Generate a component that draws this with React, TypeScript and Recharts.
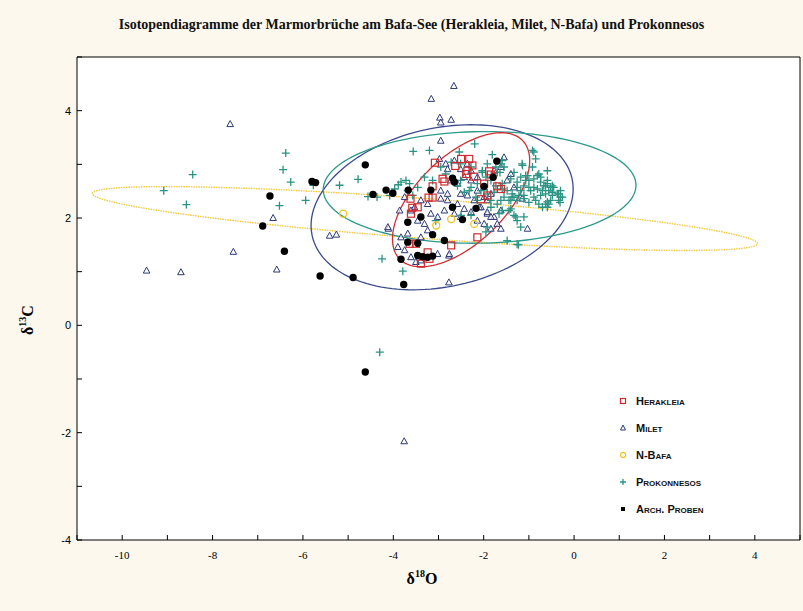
import React from "react";
import { ScatterChart, Scatter, XAxis, YAxis, CartesianGrid } from "recharts";

type Pt = [number, number];

// δ18O / δ13C pairs
const herakleia: Pt[] = [
  [-3.08, 3.03], [-2.63, 2.97], [-2.5, 3.1], [-2.32, 3.1], [-2.36, 2.88], [-2.39, 2.82], [-2.21, 2.77],
  [-1.88, 2.87], [-1.84, 2.81], [-2.91, 2.73], [-2.87, 2.68], [-3.13, 2.59], [-3.13, 2.38], [-3.22, 2.38],
  [-3.62, 2.36], [-3.58, 2.19], [-3.46, 2.2], [-3.61, 2.08], [-2.06, 2.35], [-1.92, 2.42], [-1.7, 2.59],
  [-1.99, 2.64], [-2.72, 1.49], [-3.24, 1.36], [-3.2, 1.24], [-3.64, 1.52], [-3.5, 1.52], [-3.39, 1.15],
  [-2.25, 2.98], [-1.62, 2.54], [-2.14, 1.64],
];

const milet: Pt[] = [
  [-7.61, 3.75], [-9.46, 1.02], [-8.7, 0.99], [-7.54, 1.37], [-6.66, 2.0], [-6.58, 1.04], [-5.41, 1.67],
  [-5.26, 1.69], [-2.66, 4.46], [-3.16, 4.22], [-2.97, 3.87], [-2.95, 3.78], [-2.72, 3.83], [-2.95, 3.44],
  [-3.76, -2.16], [-2.77, 0.8], [-1.62, 1.8], [-1.03, 1.8], [-4.11, 1.8], [-2.77, 1.3],
  [-2.98, 3.1], [-2.84, 3.01], [-2.8, 2.91], [-2.65, 3.07], [-2.51, 2.91], [-2.36, 3.01], [-2.73, 2.7],
  [-2.58, 2.64], [-2.43, 2.76], [-2.28, 2.7], [-2.14, 2.76], [-2.28, 2.88], [-2.14, 2.51], [-1.99, 2.57],
  [-1.84, 2.45], [-1.92, 2.33], [-2.06, 2.2], [-2.21, 2.33], [-2.36, 2.42], [-2.51, 2.45], [-2.8, 2.45],
  [-2.95, 2.51], [-2.95, 2.36], [-2.8, 2.33], [-2.58, 2.26], [-2.43, 2.17], [-2.28, 2.11], [-2.51, 2.02],
  [-2.65, 2.08], [-2.87, 2.14], [-3.02, 2.02], [-3.17, 2.08], [-3.24, 2.26], [-3.39, 2.33], [-3.53, 2.2],
  [-3.61, 2.14], [-3.46, 1.95], [-3.31, 1.89], [-3.24, 1.77], [-3.39, 1.64], [-3.68, 1.71], [-3.83, 1.64],
  [-3.9, 1.46], [-3.75, 1.4], [-3.61, 1.27], [-3.5, 1.18], [-3.39, 1.21], [-3.02, 1.33], [-2.76, 1.33],
  [-1.92, 2.08], [-1.77, 2.02], [-1.62, 2.14], [-1.7, 1.89], [-1.84, 1.8], [-1.99, 1.89], [-2.14, 1.95],
  [-1.48, 2.7], [-1.33, 2.57], [-1.4, 2.82], [-1.62, 2.95], [-1.77, 2.88], [-1.55, 3.13], [-3.75, 2.39],
  [-3.86, 2.14], [-4.12, 1.83], [-1.15, 2.36], [-1.99, 2.39], [-2.1, 2.2], [-1.92, 2.11], [-1.84, 2.02],
];

const nBafa: Pt[] = [[-5.11, 2.08], [-3.05, 1.86], [-2.72, 1.98], [-2.21, 1.89]];

const prokonnesos: Pt[] = [
  [-9.08, 2.51], [-8.44, 2.81], [-8.58, 2.25], [-6.38, 3.21], [-6.44, 2.9], [-6.27, 2.67], [-6.52, 2.23],
  [-5.94, 2.33], [-5.77, 2.61], [-5.19, 2.61], [-4.78, 2.72], [-4.36, 2.39], [-4.56, 2.4], [-4.25, 1.24],
  [-3.79, 1.01], [-4.3, -0.5],
  [-3.56, 3.24], [-3.2, 3.26], [-2.54, 3.23], [-1.81, 3.18], [-3.31, 2.76], [-3.72, 2.7], [-3.89, 2.62],
  [-3.97, 2.54], [-3.64, 2.64], [-3.46, 2.57], [-2.84, 2.82], [-2.72, 3.04], [-2.95, 2.95], [-2.28, 2.95],
  [-2.51, 3.01], [-1.92, 3.01], [-1.7, 2.85], [-2.03, 2.88], [-2.14, 2.64], [-2.28, 2.57], [-2.51, 2.7],
  [-1.59, 2.64], [-1.37, 2.45], [-1.62, 2.33], [-3.83, 2.67], [-3.68, 2.51], [-3.57, 2.42], [-3.13, 2.7],
  [-2.58, 2.6], [-2.43, 2.48], [-2.32, 2.51], [-2.14, 2.33], [-4.08, 2.42], [-3.06, 1.95], [-2.5, 2.05],
  [-2.28, 2.05],
  [-0.89, 3.23], [-0.85, 3.1], [-0.92, 2.95], [-0.59, 2.88], [-1.07, 2.7], [-0.74, 2.76], [-0.59, 2.64],
  [-0.45, 2.57], [-0.7, 2.51], [-0.89, 2.57], [-0.3, 2.51], [-0.48, 2.42], [-0.59, 2.3], [-1.11, 2.42],
  [-1.26, 2.33], [-1.4, 2.17], [-1.26, 1.95], [-1.11, 2.02], [-1.18, 1.83], [-1.48, 1.58], [-0.92, 3.26],
  [-1.14, 2.98], [-1.03, 2.79], [-0.81, 2.79], [-0.63, 2.6], [-0.56, 2.51], [-0.48, 2.6], [-0.37, 2.45],
  [-0.3, 2.39], [-0.34, 2.33], [-0.52, 2.33], [-0.63, 2.26], [-0.7, 2.2], [-0.59, 2.2], [-0.89, 2.39],
  [-1.0, 2.57], [-1.18, 2.76], [-1.26, 2.57], [-1.37, 2.39], [-1.44, 2.33], [-1.33, 2.05], [-1.92, 1.83],
  [-1.95, 1.74], [-1.26, 1.51], [-1.66, 2.08], [-1.23, 1.5],
  [-2.2, 3.38], [-1.59, 3.07], [-1.55, 2.95], [-1.64, 2.85], [-2.03, 2.85], [-1.95, 2.76], [-1.84, 2.7],
  [-1.73, 2.6], [-1.59, 2.54], [-1.77, 2.48], [-1.92, 2.45], [-2.06, 2.51], [-2.17, 2.39], [-1.15, 3.01],
  [-1.33, 2.85], [-1.4, 2.73], [-1.26, 2.67], [-1.07, 2.79], [-1.0, 2.7], [-0.89, 2.73], [-0.78, 2.82],
  [-0.74, 2.67], [-0.67, 2.6], [-0.59, 2.7], [-0.52, 2.57], [-0.81, 2.54], [-0.96, 2.51], [-1.11, 2.6],
  [-1.18, 2.51], [-1.22, 2.42], [-1.33, 2.39], [-1.4, 2.33], [-1.11, 2.36], [-1.0, 2.29], [-0.85, 2.33],
  [-0.74, 2.42], [-0.63, 2.45], [-0.48, 2.48], [-0.34, 2.45], [-0.26, 2.39], [-0.31, 2.29], [-0.56, 2.26],
  [-0.78, 2.26], [-1.44, 2.14], [-1.29, 2.02], [-1.59, 2.14], [-1.7, 2.26], [-1.84, 2.2], [-1.84, 2.33],
  [-1.55, 2.39], [-1.48, 2.51], [-1.73, 2.95], [-1.62, 3.01],
];

const archProben: Pt[] = [
  [-6.89, 1.85], [-6.73, 2.41], [-6.41, 1.38], [-5.8, 2.68], [-5.72, 2.66], [-5.62, 0.92], [-4.89, 0.89],
  [-4.62, 2.99], [-4.45, 2.44], [-4.16, 2.52], [-4.01, 2.46], [-3.77, 0.76], [-4.62, -0.87], [-3.67, 2.52],
  [-3.17, 2.52], [-2.69, 2.74], [-2.65, 2.67], [-1.71, 3.06], [-1.79, 2.76], [-1.99, 2.59], [-2.17, 2.18],
  [-2.69, 2.2], [-3.39, 2.02], [-3.68, 1.92], [-2.47, 1.97], [-3.13, 1.69], [-2.87, 1.58], [-3.68, 1.55],
  [-3.46, 1.53], [-3.83, 1.23], [-3.46, 1.3], [-3.35, 1.28], [-3.24, 1.27], [-3.13, 1.29],
];

// confidence ellipses: centre x, centre y, then two conjugate semi-axes (dx, dy), data units
const herakleiaEllipse = [-2.5, 2.34, 1.367, 1.098, 0.661, -0.595];
const miletEllipse = [-2.92, 2.2, 2.9, 0.34, 0, 1.5];
const nBafaEllipse = [-3.3, 1.99, 7.36, -0.465, 0, 0.372];
const prokonnesosEllipse = [-2.09, 2.57, 3.46, 0.04, 0, 1.04];

const xTicks = [-11, -10, -9, -8, -7, -6, -5, -4, -3, -2, -1, 0, 1, 2, 3, 4, 5];
const yTicks = [-4, -3, -2, -1, 0, 1, 2, 3, 4, 5];

const legendItems = [
  { name: "Herakleia", key: "square" },
  { name: "Milet", key: "triangle" },
  { name: "N-Bafa", key: "circle" },
  { name: "Prokonnesos", key: "cross" },
  { name: "Arch. Proben", key: "dot" },
];

const RED = "#cf2a2e";
const NAVY = "#2c3a78";
const YELLOW = "#efc21f";
const TEAL = "#2a9484";
const BG = "#fcf8ee";

const toData = (pts: Pt[]) => pts.map(([x, y]) => ({ x, y }));

const outline = ([cx, cy, ux, uy, vx, vy]: number[]) =>
  Array.from({ length: 145 }, (_, i) => {
    const t = (i / 144) * Math.PI * 2;
    return {
      x: cx + ux * Math.cos(t) + vx * Math.sin(t),
      y: cy + uy * Math.cos(t) + vy * Math.sin(t),
    };
  });

const evenOnly = (v: number) => (v % 2 === 0 ? String(v) : "");

const Square = (p: any) => (
  <rect x={p.cx - 3.5} y={p.cy - 3.5} width={7} height={7} fill="none" stroke={RED} strokeWidth={1.2} />
);
const Triangle = (p: any) => (
  <path d={`M${p.cx},${p.cy - 3.5}L${p.cx + 3.3},${p.cy + 2.5}L${p.cx - 3.3},${p.cy + 2.5}Z`} fill="#fff" fillOpacity={0.6} stroke={NAVY} strokeWidth={1} />
);
const Ring = (p: any) => <circle cx={p.cx} cy={p.cy} r={3.5} fill="none" stroke={YELLOW} strokeWidth={1.3} />;
const Cross = (p: any) => (
  <path d={`M${p.cx - 4},${p.cy}H${p.cx + 4}M${p.cx},${p.cy - 4}V${p.cy + 4}`} stroke={TEAL} strokeWidth={1.3} />
);
const Dot = (p: any) => <circle cx={p.cx} cy={p.cy} r={3.7} fill="#000" />;
const NoMark = () => <g />;

const LegendMark = ({ kind }: { kind: string }) => {
  const c = { cx: 5, cy: 5 };
  return (
    <svg width={10} height={10} style={{ display: "block" }}>
      {kind === "square" && <rect x={2.5} y={2.5} width={5} height={5} fill="none" stroke={RED} strokeWidth={1.2} />}
      {kind === "triangle" && <path d="M5,2L7.5,7H2.5Z" fill="none" stroke={NAVY} strokeWidth={1} />}
      {kind === "circle" && <circle {...c} r={2.6} fill="none" stroke={YELLOW} strokeWidth={1.2} />}
      {kind === "cross" && <path d="M2,5H8M5,2V8" stroke={TEAL} strokeWidth={1.3} />}
      {kind === "dot" && <rect x={3} y={3} width={4} height={4} fill="#000" />}
    </svg>
  );
};

export default function App() {
  const axisFont = { fontSize: 11, fill: "#000" };
  return (
    <div style={{ position: "relative", width: 803, height: 611, background: BG, overflow: "hidden" }}>
      <style>{"body{margin:0}"}</style>
      <div
        style={{
          position: "absolute", left: 10, width: 803, top: 17, textAlign: "center",
          fontFamily: "'Liberation Serif', serif", fontWeight: "bold", fontSize: 14, color: "#111",
        }}
      >
        Isotopendiagramme der Marmorbrüche am Bafa-See (Herakleia, Milet, N-Bafa) und Prokonnesos
      </div>

      <ScatterChart width={803} height={611} margin={{ top: 0, right: 0, bottom: 0, left: 0 }}>
        <CartesianGrid horizontal={false} vertical={false} fill="#fff" fillOpacity={1} />
        <XAxis
          type="number" dataKey="x" domain={[-11, 5]} ticks={xTicks} allowDataOverflow
          height={71} tickSize={-5} tickMargin={16} tickFormatter={evenOnly}
          axisLine={{ stroke: "#000" }} tickLine={{ stroke: "#000" }}
          tick={{ ...axisFont, fontFamily: "'Liberation Serif', serif" }}
        />
        <XAxis
          xAxisId="top" orientation="top" type="number" domain={[-11, 5]} ticks={xTicks} allowDataOverflow
          height={57} tickSize={-5} tick={false} axisLine={{ stroke: "#000" }} tickLine={{ stroke: "#000" }}
        />
        <YAxis
          type="number" dataKey="y" domain={[-4, 5]} ticks={yTicks} allowDataOverflow
          width={77} tickSize={-5} tickMargin={11} tickFormatter={evenOnly}
          axisLine={{ stroke: "#000" }} tickLine={{ stroke: "#000" }}
          tick={{ ...axisFont, fontFamily: "'Liberation Sans', Arial, sans-serif" }}
        />
        <YAxis
          yAxisId="right" orientation="right" type="number" domain={[-4, 5]} ticks={yTicks} allowDataOverflow
          width={3} tickSize={-5} tick={false} axisLine={{ stroke: "#000" }} tickLine={{ stroke: "#000" }}
        />

        <Scatter data={outline(nBafaEllipse)} shape={NoMark} fill="none" line={{ stroke: "#f2c93a", strokeWidth: 1.4, strokeDasharray: "1.5 1" }} lineType="joint" isAnimationActive={false} />
        <Scatter data={outline(miletEllipse)} shape={NoMark} fill="none" line={{ stroke: "#3b4b8c", strokeWidth: 1.3 }} lineType="joint" isAnimationActive={false} />
        <Scatter data={outline(prokonnesosEllipse)} shape={NoMark} fill="none" line={{ stroke: "#2b9a8a", strokeWidth: 1.3 }} lineType="joint" isAnimationActive={false} />
        <Scatter data={outline(herakleiaEllipse)} shape={NoMark} fill="none" line={{ stroke: "#d12f33", strokeWidth: 1.3 }} lineType="joint" isAnimationActive={false} />

        <Scatter name="Milet" data={toData(milet)} shape={Triangle} isAnimationActive={false} />
        <Scatter name="Prokonnesos" data={toData(prokonnesos)} shape={Cross} isAnimationActive={false} />
        <Scatter name="Herakleia" data={toData(herakleia)} shape={Square} isAnimationActive={false} />
        <Scatter name="N-Bafa" data={toData(nBafa)} shape={Ring} isAnimationActive={false} />
        <Scatter name="Arch. Proben" data={toData(archProben)} shape={Dot} isAnimationActive={false} />
      </ScatterChart>

      <div
        style={{
          position: "absolute", left: 27, top: 320, transform: "translate(-50%,-50%) rotate(-90deg)",
          fontFamily: "'Liberation Serif', serif", fontWeight: "bold", fontSize: 16, whiteSpace: "nowrap",
        }}
      >
        δ<sup style={{ fontSize: 10 }}>13</sup>C
      </div>
      <div
        style={{
          position: "absolute", left: 422, top: 578, transform: "translate(-50%,-50%)",
          fontFamily: "'Liberation Serif', serif", fontWeight: "bold", fontSize: 16, whiteSpace: "nowrap",
        }}
      >
        δ<sup style={{ fontSize: 10 }}>18</sup>O
      </div>

      <div style={{ position: "absolute", left: 618, top: 387 }}>
        {legendItems.map((it) => (
          <div key={it.name} style={{ display: "flex", alignItems: "center", height: 27 }}>
            <LegendMark kind={it.key} />
            <span
              style={{
                marginLeft: 8, fontFamily: "'Liberation Sans', Arial, sans-serif", fontWeight: "bold",
                fontSize: 11, fontVariant: "small-caps", color: "#111",
              }}
            >
              {it.name}
            </span>
          </div>
        ))}
      </div>
    </div>
  );
}
